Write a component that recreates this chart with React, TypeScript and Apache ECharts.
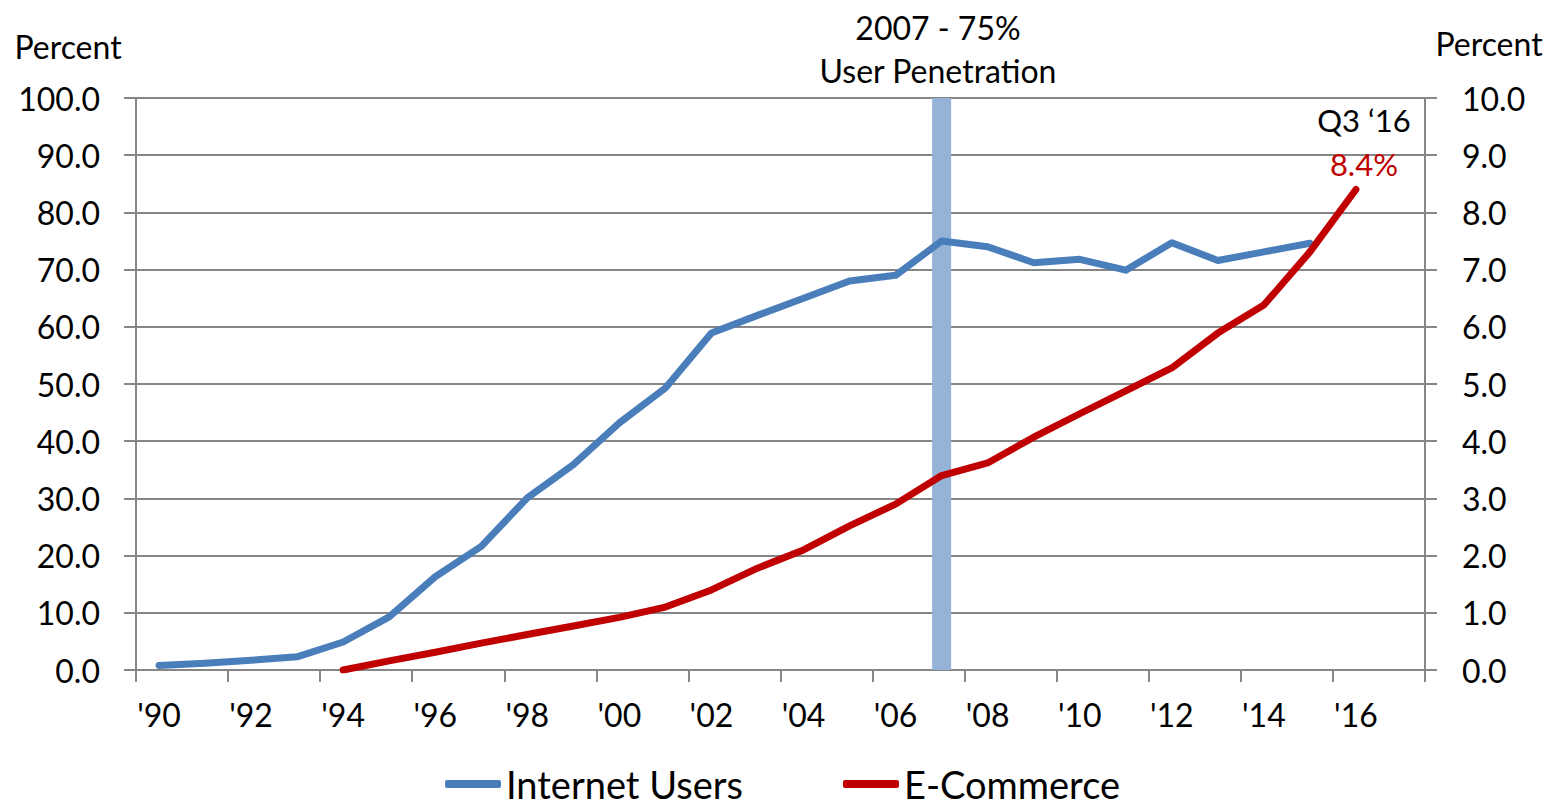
import { useEffect, useRef } from 'react';
import * as echarts from 'echarts';

// Years 1990–2017, one category per year
const categories = [
  "'90", "'91", "'92", "'93", "'94", "'95", "'96", "'97", "'98", "'99",
  "'00", "'01", "'02", "'03", "'04", "'05", "'06", "'07", "'08", "'09",
  "'10", "'11", "'12", "'13", "'14", "'15", "'16", "'17",
];

// Share of population using the internet, percent (left axis)
const internetUsers = [
  0.8, 1.2, 1.7, 2.3, 4.9, 9.3, 16.3, 21.6, 30.1, 35.9,
  43.2, 49.3, 58.9, 62.0, 65.0, 68.0, 69.0, 75.0, 74.0, 71.2,
  71.8, 69.9, 74.7, 71.6, 73.1, 74.6, null, null,
];

// E-commerce share of retail sales, percent (right axis)
const eCommerce = [
  null, null, null, null, 0.0, 0.16, 0.31, 0.47, 0.62, 0.77,
  0.92, 1.1, 1.4, 1.78, 2.1, 2.52, 2.9, 3.4, 3.62, 4.07,
  4.48, 4.88, 5.28, 5.89, 6.38, 7.31, 8.4, null,
];

const penetrationYear = "'07";
const penetrationNote = ['2007 - 75%', 'User Penetration'];
const latestPeriod = 'Q3 \u201816';
const leftTicks = { min: 0, max: 100, interval: 10 };
const rightTicks = { min: 0, max: 10, interval: 1 };

const FONT = 'Lato, "Open Sans", sans-serif';
const GRID = '#868686';
const BLUE = '#4A7EBB';
const RED = '#C00000';
const BAND = '#95B3D7';

export default function App() {
  const ref = useRef<HTMLDivElement>(null);

  useEffect(() => {
    const chart = echarts.init(ref.current!, null, { renderer: 'svg' });

    const lastEcIdx = eCommerce.reduce((acc: number, v, i) => (v != null ? i : acc), -1);
    const lastEc = eCommerce[lastEcIdx] as number;

    const bandData = categories.map((c) => (c === penetrationYear ? leftTicks.max : null));

    const axisLine = { show: true, lineStyle: { color: GRID, width: 2 } };
    const axisTick = { show: true, length: 12, lineStyle: { color: GRID, width: 2 } };

    chart.setOption({
      animation: false,
      backgroundColor: '#fff',
      textStyle: { fontFamily: FONT },
      grid: { left: 136, right: 132, top: 98, bottom: 136, containLabel: false },
      legend: {
        left: 445,
        top: 764,
        padding: 0,
        itemWidth: 56,
        itemHeight: 8,
        itemGap: 100,
        icon: 'roundRect',
        data: ['Internet Users', 'E-Commerce'],
        textStyle: { fontSize: 38, lineHeight: 40, color: '#000', fontFamily: FONT },
      },
      xAxis: {
        type: 'category',
        data: categories,
        boundaryGap: true,
        axisLine,
        axisTick: { ...axisTick, interval: 1 },
        axisLabel: { interval: 1, color: '#000', fontSize: 32, margin: 28, fontFamily: FONT },
        splitLine: { show: false },
      },
      yAxis: [
        {
          type: 'value',
          position: 'left',
          ...leftTicks,
          axisLine,
          axisTick,
          axisLabel: {
            color: '#000',
            fontSize: 32,
            margin: 36,
            fontFamily: FONT,
            formatter: (v: number) => v.toFixed(1),
          },
          splitLine: { show: true, lineStyle: { color: GRID, width: 2 } },
        },
        {
          type: 'value',
          position: 'right',
          ...rightTicks,
          axisLine,
          axisTick,
          axisLabel: {
            color: '#000',
            fontSize: 32,
            margin: 37,
            fontFamily: FONT,
            formatter: (v: number) => v.toFixed(1),
          },
          splitLine: { show: false },
        },
      ],
      graphic: [
        {
          type: 'text',
          x: 68,
          y: 46,
          style: { text: 'Percent', font: `32px ${FONT}`, fill: '#000', textAlign: 'center', textVerticalAlign: 'middle' },
        },
        {
          type: 'text',
          x: 1489,
          y: 43,
          style: { text: 'Percent', font: `32px ${FONT}`, fill: '#000', textAlign: 'center', textVerticalAlign: 'middle' },
        },
        {
          type: 'text',
          x: 938,
          y: 27,
          style: { text: penetrationNote[0], font: `32px ${FONT}`, fill: '#000', textAlign: 'center', textVerticalAlign: 'middle' },
        },
        {
          type: 'text',
          x: 938,
          y: 70,
          style: { text: penetrationNote[1], font: `32px ${FONT}`, fill: '#000', textAlign: 'center', textVerticalAlign: 'middle' },
        },
      ],
      series: [
        {
          name: 'User Penetration',
          type: 'bar',
          data: bandData,
          barWidth: 19,
          silent: true,
          itemStyle: { color: BAND },
          z: 1,
        },
        {
          name: 'Internet Users',
          type: 'line',
          data: internetUsers,
          yAxisIndex: 0,
          symbol: 'none',
          itemStyle: { color: BLUE },
          lineStyle: { color: BLUE, width: 7, cap: 'round', join: 'round' },
          z: 3,
        },
        {
          name: 'E-Commerce',
          type: 'line',
          data: eCommerce,
          yAxisIndex: 1,
          symbol: 'none',
          itemStyle: { color: RED },
          lineStyle: { color: RED, width: 7, cap: 'round', join: 'round' },
          z: 4,
          markPoint: {
            silent: true,
            symbol: 'circle',
            symbolSize: 0,
            itemStyle: { color: RED },
            data: [
              {
                coord: [categories[lastEcIdx], lastEc],
                label: {
                  show: true,
                  position: 'top',
                  distance: 4,
                  offset: [8, 0],
                  formatter: `{a|${latestPeriod}}\n{b|${lastEc}%}`,
                  rich: {
                    a: { fontSize: 31, color: '#000', lineHeight: 44, fontFamily: FONT },
                    b: { fontSize: 31, color: RED, lineHeight: 44, fontFamily: FONT },
                  },
                },
              },
            ],
          },
        },
      ],
    });

    return () => chart.dispose();
  }, []);

  return (
    <div
      ref={ref}
      style={{ position: 'absolute', left: 0, top: 0, width: 1557, height: 806, background: '#fff' }}
    />
  );
}
